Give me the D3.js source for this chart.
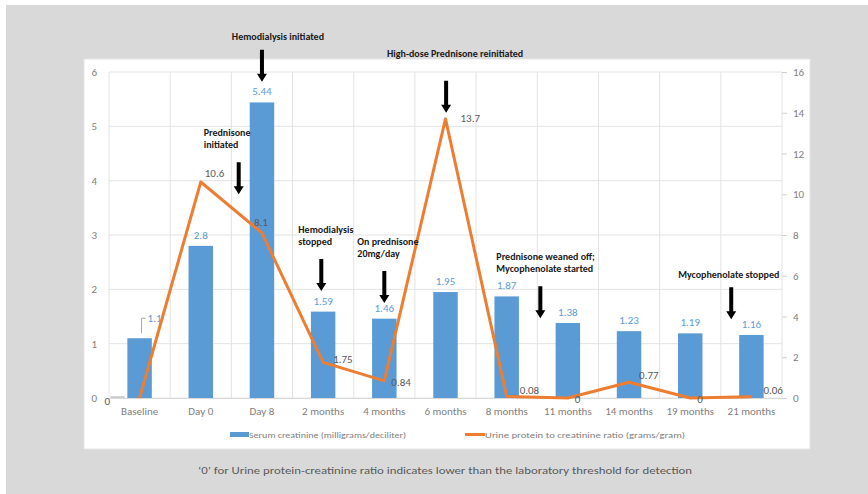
<!DOCTYPE html>
<html>
<head>
<meta charset="utf-8">
<script src="https://cdn.jsdelivr.net/npm/d3@7/dist/d3.min.js"></script>
<style>
  html, body { margin: 0; padding: 0; background: #fff; }
  svg { display: block; }
  text { font-family: Carlito, Lato, "Open Sans", sans-serif; }
</style>
</head>
<body>
<svg id="chart" width="868" height="494"></svg>
<script>
// Timeline of visits
const categories = ["Baseline", "Day 0", "Day 8", "2 months", "4 months", "6 months",
  "8 months", "11 months", "14 months", "19 months", "21 months"];
// Serum creatinine (mg/dL), left axis
const serumCreatinine = [1.1, 2.8, 5.44, 1.59, 1.46, 1.95, 1.87, 1.38, 1.23, 1.19, 1.16];
// Urine protein to creatinine ratio (g/g), right axis
const urineRatio = [0, 10.6, 8.1, 1.75, 0.84, 13.7, 0.08, 0, 0.77, 0, 0.06];
const leftTicks = [0, 1, 2, 3, 4, 5, 6];
const rightTicks = [0, 2, 4, 6, 8, 10, 12, 14, 16];
const seriesNames = ["Serum creatinine (milligrams/deciliter)",
  "Urine protein to creatinine ratio (grams/gram)"];
const footnote = "\u20180\u2019 for Urine protein-creatinine ratio indicates lower than the laboratory threshold for detection";

// Clinical events: category band the arrow sits in (fractional offset from the band start),
// arrow tip height on the creatinine scale, and the caption lines.
const events = [
  { at: 2, off: 0.5, tip: 5.82, lines: ["Hemodialysis initiated"] },
  { at: 5, off: 0.51, tip: 5.25, lines: ["High-dose Prednisone reinitiated"] },
  { at: 2, off: 0.12, tip: 3.75, lines: ["Prednisone", "initiated"] },
  { at: 3, off: 0.47, tip: 1.97, lines: ["Hemodialysis", "stopped"] },
  { at: 4, off: 0.5, tip: 1.75, lines: ["On prednisone", "20mg/day"] },
  { at: 6, off: 1.05, tip: 1.47, lines: ["Prednisone weaned off;", "Mycophenolate started"] },
  { at: 9, off: 1.17, tip: 1.45, lines: ["Mycophenolate stopped"] }
];

// ---- layout ----
const colors = { bar: "#5b9bd5", line: "#ed7d31", page: "#d9d9d9", grid: "#e3e3e3",
  tick: "#808080", label: "#595959" };
const plot = { left: 109, right: 782, top: 72, bottom: 398 };

const svg = d3.select("#chart");

// page background and the white chart panel
svg.append("rect").attr("x", 6).attr("y", 5).attr("width", 862).attr("height", 489)
  .attr("fill", colors.page);
svg.append("rect").attr("x", 84).attr("y", 59).attr("width", 726).attr("height", 390)
  .attr("fill", "#fff").attr("stroke", "#e6e6e6").attr("stroke-width", 1);

const x = d3.scaleBand().domain(categories).range([plot.left, plot.right]).padding(0);
const yL = d3.scaleLinear().domain([0, 6]).range([plot.bottom, plot.top]);
const yR = d3.scaleLinear().domain([0, 16]).range([plot.bottom, plot.top]);
const bw = x.bandwidth();
const cx = d => x(d) + bw / 2;

// gridlines
const grid = svg.append("g");
grid.selectAll("line.h").data(leftTicks).join("line")
  .attr("x1", plot.left).attr("x2", plot.right)
  .attr("y1", d => yL(d)).attr("y2", d => yL(d))
  .attr("stroke", colors.grid).attr("stroke-width", 1);
const bounds = categories.map(c => x(c)).concat([plot.right]);
grid.selectAll("line.v").data(bounds).join("line")
  .attr("x1", d => d).attr("x2", d => d)
  .attr("y1", plot.top).attr("y2", plot.bottom)
  .attr("stroke", colors.grid).attr("stroke-width", 1);

// left axis
const axL = svg.append("g").attr("transform", `translate(${plot.left - 10},0)`)
  .call(d3.axisLeft(yL).tickValues(leftTicks).tickSize(0).tickPadding(2).tickFormat(d3.format("d")));
axL.select(".domain").remove();
axL.selectAll("text").attr("fill", colors.tick).attr("font-size", 11)
  .attr("font-family", "Carlito, Lato, sans-serif");

// right axis
const axR = svg.append("g").attr("transform", `translate(${plot.right},0)`)
  .call(d3.axisRight(yR).tickValues(rightTicks).tickSize(5).tickPadding(6).tickFormat(d3.format("d")));
axR.select(".domain").remove();
axR.selectAll("line").attr("stroke", "#d0d0d0");
axR.selectAll("text").attr("fill", colors.tick).attr("font-size", 11)
  .attr("font-family", "Carlito, Lato, sans-serif");

// bottom axis
const axB = svg.append("g").attr("transform", `translate(0,${plot.bottom})`)
  .call(d3.axisBottom(x).tickSize(0).tickPadding(9));
axB.select(".domain").attr("stroke", "#d9d9d9");
axB.selectAll("text").attr("fill", colors.tick).attr("font-size", 11)
  .attr("font-family", "Carlito, Lato, sans-serif");

// bars
const barW = bw * 0.4;
svg.append("g").selectAll("rect").data(serumCreatinine).join("rect")
  .attr("x", (d, i) => cx(categories[i]) - barW / 2)
  .attr("width", barW)
  .attr("y", d => yL(d))
  .attr("height", d => yL(0) - yL(d))
  .attr("fill", colors.bar);

// bar value labels
svg.append("g").selectAll("text").data(serumCreatinine).join("text")
  .attr("x", (d, i) => i === 0 ? cx(categories[i]) + 8 : cx(categories[i]))
  .attr("y", (d, i) => i === 0 ? yL(d) - 16 : yL(d) - 7)
  .attr("text-anchor", (d, i) => i === 0 ? "start" : "middle")
  .attr("fill", colors.bar).attr("font-size", 11)
  .text(d => d);
// leader for the baseline creatinine label
{
  const bx = cx(categories[0]) + 2, by = yL(serumCreatinine[0]);
  svg.append("path")
    .attr("d", `M${bx},${by - 5}V${by - 20}H${bx + 4}`)
    .attr("fill", "none").attr("stroke", "#a6a6a6").attr("stroke-width", 1);
}

// ratio line
const line = d3.line().x((d, i) => cx(categories[i])).y(d => yR(d));
svg.append("path").datum(urineRatio)
  .attr("d", line)
  .attr("fill", "none").attr("stroke", colors.line).attr("stroke-width", 3)
  .attr("stroke-linejoin", "round");

// ratio value labels (nudged off the line)
const ratioNudge = [[-35, 3], [4, -9], [-8, -11], [10, -3], [7, 1], [15, -1],
  [13, -6], [7, 1], [10, -7], [7, 1], [12, -7]];
svg.append("g").selectAll("text").data(urineRatio).join("text")
  .attr("x", (d, i) => cx(categories[i]) + ratioNudge[i][0])
  .attr("y", (d, i) => yR(d) + ratioNudge[i][1])
  .attr("dy", "0.35em")
  .attr("fill", colors.label).attr("font-size", 11)
  .text(d => d);
// leader for the baseline ratio label
svg.append("line")
  .attr("x1", cx(categories[0]) - 29).attr("x2", cx(categories[0]) - 15)
  .attr("y1", yR(urineRatio[0]) - 1).attr("y2", yR(urineRatio[0]) - 1)
  .attr("stroke", "#a6a6a6").attr("stroke-width", 1);

// event arrows and captions
const arrowLen = 32, shaft = 4, headW = 10, headL = 8;
const ev = svg.append("g");
events.forEach((e, k) => {
  const ax = x(categories[e.at]) + bw * e.off;
  const tipY = yL(e.tip);
  const topY = tipY - arrowLen;
  ev.append("path")
    .attr("d", `M${ax - shaft / 2},${topY}H${ax + shaft / 2}V${tipY - headL}H${ax + headW / 2}` +
      `L${ax},${tipY}L${ax - headW / 2},${tipY - headL}H${ax - shaft / 2}Z`)
    .attr("fill", "#000");
  const t = ev.append("text").attr("font-size", 10).attr("font-weight", "bold")
    .attr("fill", "#1a1a1a");
  let tx, ty, anchor;
  if (k === 0) { tx = ax + 16; ty = topY - 10; anchor = "middle"; }
  else if (k === 1) { tx = ax + 9; ty = topY - 24; anchor = "middle"; }
  else if (k === 6) { tx = ax - 53; ty = topY - 9; anchor = "start"; }
  else {
    const lefts = { 2: -35, 3: -23, 4: -27, 5: -44 };
    tx = ax + lefts[k]; ty = topY - 26; anchor = "start";
  }
  t.attr("text-anchor", anchor);
  e.lines.forEach((ln, j) => {
    t.append("tspan").attr("x", tx).attr("y", ty + j * 12).text(ln);
  });
});

// legend
const lg = svg.append("g").attr("font-size", 9).attr("fill", colors.tick);
lg.append("rect").attr("x", 230).attr("y", 432).attr("width", 19).attr("height", 5).attr("fill", colors.bar);
lg.append("text").attr("x", 249).attr("y", 437.5).attr("fill", colors.tick)
  .attr("textLength", 157).attr("lengthAdjust", "spacingAndGlyphs").text(seriesNames[0]);
lg.append("line").attr("x1", 465).attr("x2", 485).attr("y1", 434.5).attr("y2", 434.5)
  .attr("stroke", colors.line).attr("stroke-width", 3);
lg.append("text").attr("x", 485).attr("y", 437.5).attr("fill", colors.tick)
  .attr("textLength", 200).attr("lengthAdjust", "spacingAndGlyphs").text(seriesNames[1]);

// footnote
svg.append("text").attr("x", 198).attr("y", 474).attr("font-size", 11)
  .attr("fill", "#595959").attr("textLength", 494).attr("lengthAdjust", "spacingAndGlyphs")
  .text(footnote);
</script>
</body>
</html>
